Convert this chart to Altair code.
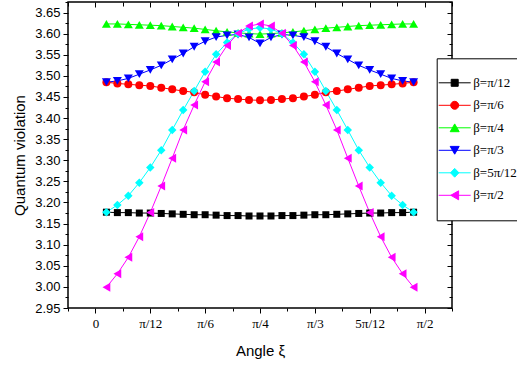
import altair as alt
import pandas as pd

# ---------------- data ----------------
xi_deg = [3, 6, 9, 12, 15, 18, 21, 24, 27, 30, 33, 36, 39, 42, 45,
          48, 51, 54, 57, 60, 63, 66, 69, 72, 75, 78, 81, 84, 87]

labels = ["β=π/12", "β=π/6", "β=π/4", "β=π/3", "β=5π/12", "β=π/2"]

beta_pi12 = [3.177, 3.176, 3.176, 3.175, 3.175, 3.174, 3.173, 3.172, 3.171, 3.171,
             3.170, 3.169, 3.169, 3.168, 3.168, 3.168, 3.169, 3.169, 3.170, 3.171,
             3.171, 3.172, 3.173, 3.174, 3.175, 3.175, 3.176, 3.176, 3.177]
beta_pi6 = [3.485, 3.482, 3.480, 3.478, 3.476, 3.472, 3.468, 3.464, 3.461, 3.455,
            3.451, 3.447, 3.445, 3.443, 3.442, 3.443, 3.445, 3.447, 3.451, 3.455,
            3.461, 3.464, 3.468, 3.472, 3.476, 3.478, 3.480, 3.482, 3.485]
beta_pi4 = [3.623, 3.623, 3.622, 3.621, 3.620, 3.619, 3.617, 3.615, 3.613, 3.610,
            3.607, 3.604, 3.602, 3.600, 3.599, 3.600, 3.602, 3.604, 3.607, 3.610,
            3.613, 3.615, 3.617, 3.619, 3.620, 3.621, 3.622, 3.623, 3.623]
beta_pi3 = [3.485, 3.488, 3.494, 3.504, 3.514, 3.525, 3.539, 3.553, 3.569, 3.582,
            3.592, 3.596, 3.598, 3.591, 3.577, 3.591, 3.598, 3.596, 3.592, 3.582,
            3.569, 3.553, 3.539, 3.525, 3.514, 3.504, 3.494, 3.488, 3.485]
beta_5pi12 = [3.177, 3.194, 3.216, 3.247, 3.283, 3.324, 3.372, 3.419, 3.464, 3.510,
              3.551, 3.579, 3.600, 3.611, 3.614, 3.611, 3.600, 3.579, 3.551, 3.510,
              3.464, 3.419, 3.372, 3.324, 3.283, 3.247, 3.216, 3.194, 3.177]
beta_pi2 = [2.999, 3.031, 3.070, 3.119, 3.176, 3.239, 3.305, 3.372, 3.431, 3.486,
            3.533, 3.572, 3.601, 3.618, 3.623, 3.618, 3.601, 3.572, 3.533, 3.486,
            3.431, 3.372, 3.305, 3.239, 3.176, 3.119, 3.070, 3.031, 2.999]

series = [beta_pi12, beta_pi6, beta_pi4, beta_pi3, beta_5pi12, beta_pi2]

x_tick_values = [0, 15, 30, 45, 60, 75, 90]
x_tick_labels = ["0", "π/12", "π/6", "π/4", "π/3", "5π/12", "π/2"]
y_tick_values = [2.95, 3.00, 3.05, 3.10, 3.15, 3.20, 3.25, 3.30, 3.35, 3.40,
                 3.45, 3.50, 3.55, 3.60, 3.65]

# ---------------- styles ----------------
colors = ["#000000", "#ff0000", "#00ff00", "#0000ff", "#00ffff", "#ff00ff"]
shapes = ["square", "circle", "triangle-up", "triangle-down", "diamond", "triangle-left"]
sizes = [49, 64, 81, 81, 72, 81]
legend_paths = [
    "M-4,0H4M-0.875,-0.875H0.875V0.875H-0.875Z",
    "M-4,0H4M1,0A1,1,0,1,1,-1,0A1,1,0,1,1,1,0Z",
    "M-4,0H4M0,-0.974L1.125,0.974L-1.125,0.974Z",
    "M-4,0H4M0,0.974L1.125,-0.974L-1.125,-0.974Z",
    "M-4,0H4M0,-1.1L1.05,0L0,1.1L-1.05,0Z",
    "M-4,0H4M-0.974,0L0.974,-1.125L0.974,1.125Z",
]

rows = []
for lab, col, shp, sz, vals in zip(labels, colors, shapes, sizes, series):
    for x, v in zip(xi_deg, vals):
        rows.append({"xi": x, "val": v, "beta": lab, "col": col, "shp": shp, "sz": sz})
df = pd.DataFrame(rows)

X_DOMAIN = [-7.5, 97.5]
Y_DOMAIN = [2.95, 3.675]

x_minor = [-7.5 + 15 * i for i in range(8)]
y_minor = [round(2.975 + 0.05 * i, 3) for i in range(15)]

label_expr = " : ".join(
    [f"datum.value == {v} ? '{t}'" for v, t in zip(x_tick_values, x_tick_labels)]
) + " : ''"

xs = alt.Scale(domain=X_DOMAIN, nice=False, zero=False)
ys = alt.Scale(domain=Y_DOMAIN, nice=False, zero=False)

tick_common = dict(domain=False, grid=False, tickColor="black", tickWidth=1)

ax_bottom = alt.Axis(orient="bottom", values=x_tick_values, labelExpr=label_expr,
                     tickSize=5, labelFont="Liberation Serif", labelFontSize=13,
                     labelColor="black", labelPadding=4, title="Angle ξ",
                     titleFont="Liberation Sans", titleFontSize=15,
                     titleFontWeight="normal", titleColor="black", titlePadding=13,
                     **tick_common)
ax_left = alt.Axis(orient="left", values=y_tick_values, format=".2f", tickSize=5,
                   labelFont="Liberation Sans", labelFontSize=13, labelColor="black",
                   labelPadding=3, title="Quantum violation", titleFont="Liberation Sans",
                   titleFontSize=15, titleFontWeight="normal", titleColor="black",
                   titlePadding=7, **tick_common)
ax_bottom_minor = alt.Axis(orient="bottom", values=x_minor, tickSize=3, labels=False,
                           title=None, **tick_common)
ax_left_minor = alt.Axis(orient="left", values=y_minor, tickSize=3, labels=False,
                         title=None, **tick_common)
ax_top = alt.Axis(orient="top", values=x_tick_values, tickSize=5, offset=-5,
                  labels=False, title=None, **tick_common)
ax_right = alt.Axis(orient="right", values=y_tick_values, tickSize=5, offset=-5,
                    labels=False, title=None, **tick_common)
ax_top_minor = alt.Axis(orient="top", values=x_minor, tickSize=4, offset=-4,
                        labels=False, title=None, **tick_common)
ax_right_minor = alt.Axis(orient="right", values=y_minor, tickSize=3, offset=-3,
                          labels=False, title=None, **tick_common)

base = alt.Chart(df)

lines = base.mark_line(strokeWidth=1).encode(
    x=alt.X("xi:Q", scale=xs, axis=ax_bottom),
    y=alt.Y("val:Q", scale=ys, axis=ax_left),
    color=alt.Color("col:N", scale=None),
    detail="beta:N",
)

points = base.mark_point(filled=True, opacity=1, strokeWidth=0.5).encode(
    x=alt.X("xi:Q", scale=xs, axis=ax_bottom_minor),
    y=alt.Y("val:Q", scale=ys, axis=ax_left_minor),
    color=alt.Color("col:N", scale=None),
    shape=alt.Shape("shp:N", scale=None),
    size=alt.Size("sz:Q", scale=None),
)

leg = alt.Legend(title=None, orient="none", legendX=368.7, legendY=56.3,
                 direction="vertical", strokeColor="black", fillColor="white",
                 padding=18, symbolOffset=-6.5, labelOffset=12,
                 labelFont="Liberation Serif", labelFontSize=13, labelColor="black",
                 rowPadding=8.5, symbolStrokeWidth=1, symbolSize=64, symbolOpacity=1)

# legend-only layer (no rows drawn)
legend_layer = base.mark_point(filled=True, opacity=1, size=64, strokeWidth=1).encode(
    x=alt.X("xi:Q", scale=xs, axis=ax_top),
    y=alt.Y("val:Q", scale=ys, axis=ax_right),
    fill=alt.Fill("beta:N", scale=alt.Scale(domain=labels, range=colors), legend=leg),
    stroke=alt.Stroke("beta:N", scale=alt.Scale(domain=labels, range=colors), legend=leg),
    shape=alt.Shape("beta:N", scale=alt.Scale(domain=labels, range=legend_paths), legend=leg),
).transform_filter("false")

extra_axes = base.mark_point(opacity=0, size=0).encode(
    x=alt.X("xi:Q", scale=xs, axis=ax_top_minor),
    y=alt.Y("val:Q", scale=ys, axis=ax_right_minor),
)

chart = alt.layer(lines, points, legend_layer, extra_axes).resolve_axis(
    x="independent", y="independent"
).properties(
    width=384, height=306,
    padding={"left": 68, "top": 2, "right": 65, "bottom": 59},
    autosize=alt.AutoSizeParams(type="none"),
    background="white",
).configure_view(stroke="black", strokeWidth=1.5)

chart.save("out.html", embed_options={"renderer": "svg", "actions": False})
